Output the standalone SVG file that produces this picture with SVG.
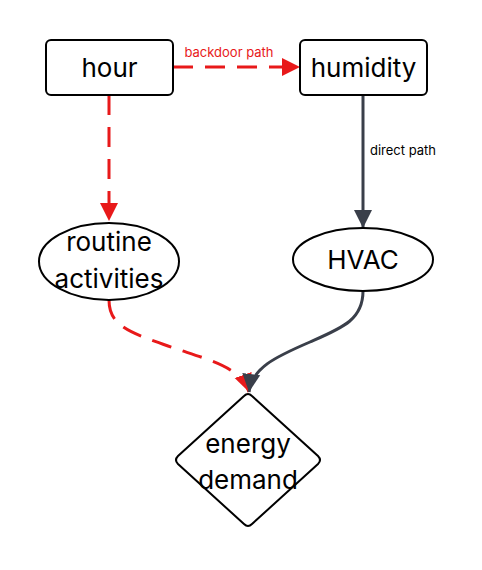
<svg xmlns="http://www.w3.org/2000/svg" width="482" height="570" viewBox="0 0 482 570">
<style>
.node{fill:#fff;stroke:#000;stroke-width:2}
.lbl{font-family:Inter,"Liberation Sans",sans-serif;font-size:26px;fill:#000;text-anchor:middle}
.red{fill:none;stroke:#e8191a;stroke-width:3;stroke-dasharray:20 12}
.dark{fill:none;stroke:#3a3f4a;stroke-width:3}
.elbl{font-family:Inter,"Liberation Sans",sans-serif;font-size:13px}
</style>
<defs>
<marker id="ar" markerUnits="userSpaceOnUse" markerWidth="20" markerHeight="20" viewBox="0 0 20 20" refX="18" refY="10" orient="auto">
<path d="M0,1 L18,10 L0,19 Z" fill="#e8191a"/>
</marker>
<marker id="ad" markerUnits="userSpaceOnUse" markerWidth="20" markerHeight="20" viewBox="0 0 20 20" refX="18" refY="10" orient="auto">
<path d="M0,1 L18,10 L0,19 Z" fill="#3a3f4a"/>
</marker>
</defs>
<g id="edges">
<path class="red" d="M173,67 L300,67" marker-end="url(#ar)"/>
<text class="elbl" x="229" y="57" fill="#e8191a" text-anchor="middle">backdoor path</text>
<path class="red" d="M109,95 L109,221" marker-end="url(#ar)"/>
<path class="dark" d="M363,95 L363,228" marker-end="url(#ad)"/>
<text class="elbl" x="370" y="155" fill="#000">direct path</text>
<path class="red" d="M109,300 C109,325 128,332 168,346 C208,360 240,366 249,392" marker-end="url(#ar)"/>
<path class="dark" d="M363,291 C363,320 342,328 310,342 C275,357 252,368 249,392" marker-end="url(#ad)"/>
</g>
<g id="hour"><rect class="node" x="46" y="40" width="127" height="55" rx="5"/><text class="lbl" x="109.5" y="77">hour</text></g>
<g id="humidity"><rect class="node" x="300" y="40" width="127" height="55" rx="5"/><text class="lbl" x="363.5" y="77">humidity</text></g>
<g id="routine"><ellipse class="node" cx="109" cy="261.5" rx="70" ry="38.5"/><text class="lbl" x="109" y="251">routine</text><text class="lbl" x="109" y="288">activities</text></g>
<g id="hvac"><ellipse class="node" cx="363" cy="259.5" rx="70" ry="31.5"/><text class="lbl" x="363" y="269">HVAC</text></g>
<g id="energy"><path class="node" d="M244,396 Q248,392 252,396 L318,456 Q322,460 318,464 L252,524 Q248,528 244,524 L178,464 Q174,460 178,456 Z"/><text class="lbl" x="248" y="453">energy</text><text class="lbl" x="248" y="489">demand</text></g>
</svg>
